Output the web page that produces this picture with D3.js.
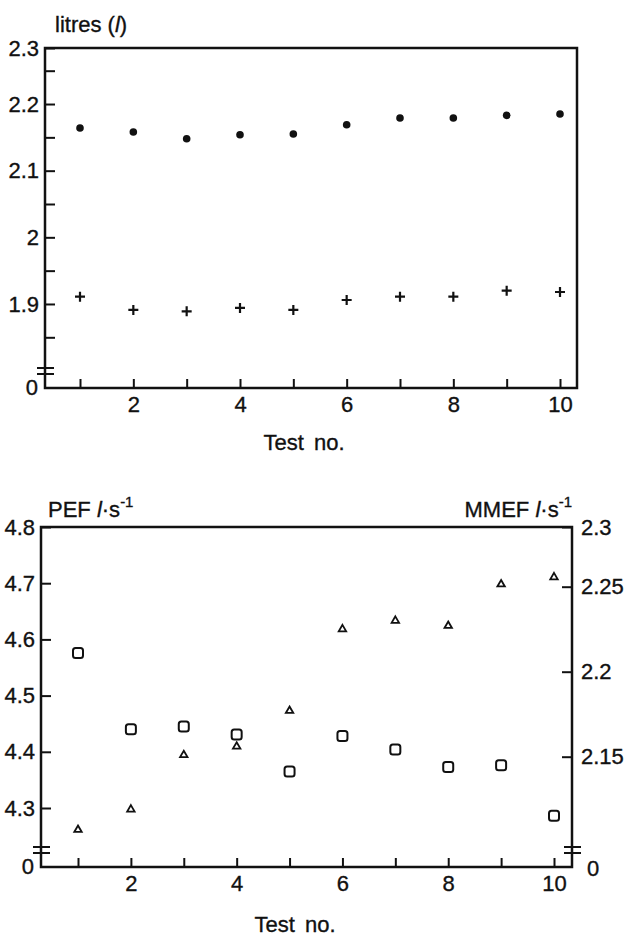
<!DOCTYPE html>
<html>
<head>
<meta charset="utf-8">
<script src="https://cdn.jsdelivr.net/npm/d3@7"></script>
<style>
  body { margin: 0; background: #fff; }
  svg text { font-family: "Liberation Sans", Arial, sans-serif; fill: #111; stroke: #111; stroke-width: 0.35px; }
</style>
</head>
<body>
<script>
// data
var testNo = [1, 2, 3, 4, 5, 6, 7, 8, 9, 10];
var xLabels = [2, 4, 6, 8, 10];

// top panel (litres)
var dots = [2.164, 2.158, 2.148, 2.154, 2.155, 2.169, 2.179, 2.179, 2.183, 2.185];
var crosses = [1.911, 1.891, 1.889, 1.894, 1.891, 1.906, 1.911, 1.911, 1.920, 1.918];
var topYLabels = [1.9, 2, 2.1, 2.2, 2.3];
var topYMinor = [1.85, 1.95, 2.05, 2.15, 2.25];

// bottom panel
var pef = [4.576, 4.440, 4.445, 4.431, 4.365, 4.428, 4.404, 4.373, 4.376, 4.286];
var mmef = [2.107, 2.119, 2.151, 2.156, 2.177, 2.225, 2.230, 2.227, 2.252, 2.258];
var pefTicks = [4.3, 4.4, 4.5, 4.6, 4.7, 4.8];
var mmefTicks = [2.15, 2.2, 2.25, 2.3];

var svg = d3.select("body").append("svg").attr("width", 624).attr("height", 936);

var fs = 22;

// ---------- top panel ----------
var T = {left: 45, right: 577, top: 48, bottom: 388, brk: 371};
var xTop = d3.scaleLinear().domain([1, 10]).range([80, 560]);
// the printed axis squeezes the top bit above 2.25
var yTop = d3.scaleLinear().domain([1.85, 2.25, 2.3]).range([337.3, 70.7, T.top]);

svg.append("g").attr("transform", "translate(0," + T.bottom + ")")
  .call(d3.axisBottom(xTop).tickValues(testNo).tickSizeInner(-9).tickSizeOuter(0).tickPadding(8)
    .tickFormat(function (d) { return xLabels.indexOf(d) >= 0 ? d : ""; }));
svg.append("g").attr("transform", "translate(" + T.left + ",0)")
  .call(d3.axisLeft(yTop).tickValues(topYLabels.concat(topYMinor)).tickSizeInner(-10).tickSizeOuter(0).tickPadding(6)
    .tickFormat(function (d) { return topYLabels.indexOf(d) >= 0 ? String(d) : ""; }));

svg.append("text").attr("x", T.left - 7).attr("y", T.bottom).attr("dy", "0.32em")
  .attr("text-anchor", "end").attr("font-size", fs).text("0");

svg.append("text").attr("x", 55).attr("y", 32).attr("font-size", fs)
  .html('litres (<tspan font-style="italic">l</tspan>)');

svg.append("text").attr("x", 304).attr("y", 450).attr("text-anchor", "middle")
  .attr("font-size", fs).attr("word-spacing", 4).text("Test no.");

svg.append("g").selectAll("circle").data(dots).enter().append("circle")
  .attr("cx", function (d, i) { return xTop(testNo[i]); })
  .attr("cy", function (d) { return yTop(d); })
  .attr("r", 3.8).attr("fill", "#111");

svg.append("g").selectAll("path").data(crosses).enter().append("path")
  .attr("d", function (d, i) {
    var x = xTop(testNo[i]), y = yTop(d), a = 5;
    return "M" + (x - a) + "," + y + "H" + (x + a) + "M" + x + "," + (y - a) + "V" + (y + a);
  })
  .attr("stroke", "#111").attr("stroke-width", 2.2).attr("fill", "none");

// ---------- bottom panel ----------
var B = {left: 41, right: 572, top: 527, bottom: 867, brk: 850};
var xBot = d3.scaleLinear().domain([1, 10]).range([78, 554]);
var yL = d3.scaleLinear().domain([4.3, 4.8]).range([808, B.top]);
var yR = d3.scaleLinear().domain([2.15, 2.25, 2.3]).range([756.7, 586.7, B.top]);

svg.append("g").attr("transform", "translate(0," + B.bottom + ")")
  .call(d3.axisBottom(xBot).tickValues(testNo).tickSizeInner(-9).tickSizeOuter(0).tickPadding(8)
    .tickFormat(function (d) { return xLabels.indexOf(d) >= 0 ? d : ""; }));
svg.append("g").attr("transform", "translate(" + B.left + ",0)")
  .call(d3.axisLeft(yL).tickValues(pefTicks).tickSizeInner(-10).tickSizeOuter(0).tickPadding(6)
    .tickFormat(function (d) { return d.toFixed(1); }));
svg.append("g").attr("transform", "translate(" + B.right + ",0)")
  .call(d3.axisRight(yR).tickValues(mmefTicks).tickSizeInner(-10).tickSizeOuter(0).tickPadding(9)
    .tickFormat(function (d) { return String(d); }));

svg.append("text").attr("x", B.left - 7).attr("y", B.bottom).attr("dy", "0.32em")
  .attr("text-anchor", "end").attr("font-size", fs).text("0");
svg.append("text").attr("x", B.right + 15).attr("y", B.bottom + 2).attr("dy", "0.32em")
  .attr("font-size", fs).text("0");

svg.append("text").attr("x", 48).attr("y", 517).attr("font-size", fs)
  .html('PEF  <tspan font-style="italic">l</tspan>·s<tspan dy="-10" font-size="15">-1</tspan>');
svg.append("text").attr("x", 572).attr("y", 517).attr("font-size", fs).attr("text-anchor", "end")
  .html('MMEF  <tspan font-style="italic">l</tspan>·s<tspan dy="-10" font-size="15">-1</tspan>');

svg.append("text").attr("x", 295).attr("y", 932).attr("text-anchor", "middle")
  .attr("font-size", fs).attr("word-spacing", 4).text("Test no.");

svg.append("g").selectAll("rect").data(pef).enter().append("rect")
  .attr("x", function (d, i) { return xBot(testNo[i]) - 5; })
  .attr("y", function (d) { return yL(d) - 5; })
  .attr("width", 10).attr("height", 10).attr("rx", 2.5)
  .attr("fill", "none").attr("stroke", "#111").attr("stroke-width", 2);

var tri = d3.symbol().type(d3.symbolTriangle).size(24);
svg.append("g").selectAll("path").data(mmef).enter().append("path")
  .attr("d", tri)
  .attr("transform", function (d, i) { return "translate(" + xBot(testNo[i]) + "," + yR(d) + ")"; })
  .attr("fill", "none").attr("stroke", "#111").attr("stroke-width", 1.8);

// ---------- frames, breaks, axis styling ----------
[T, B].forEach(function (p) {
  svg.append("rect").attr("x", p.left).attr("y", p.top)
    .attr("width", p.right - p.left).attr("height", p.bottom - p.top)
    .attr("fill", "none").attr("stroke", "#111").attr("stroke-width", 2.5);
});

function brk(x, y) {
  svg.append("path").attr("d", "M" + (x - 8) + "," + (y - 3) + "H" + (x + 9) + "M" + (x - 8) + "," + (y + 3) + "H" + (x + 9))
    .attr("stroke", "#111").attr("stroke-width", 2);
}
brk(T.left, T.brk);
brk(B.left, B.brk);
brk(B.right, B.brk);

svg.selectAll(".domain").remove();
svg.selectAll(".tick line").attr("stroke", "#111").attr("stroke-width", 2);
svg.selectAll(".tick text").attr("font-size", fs).attr("font-family", "Liberation Sans, Arial, sans-serif").attr("fill", "#111");
</script>
</body>
</html>
